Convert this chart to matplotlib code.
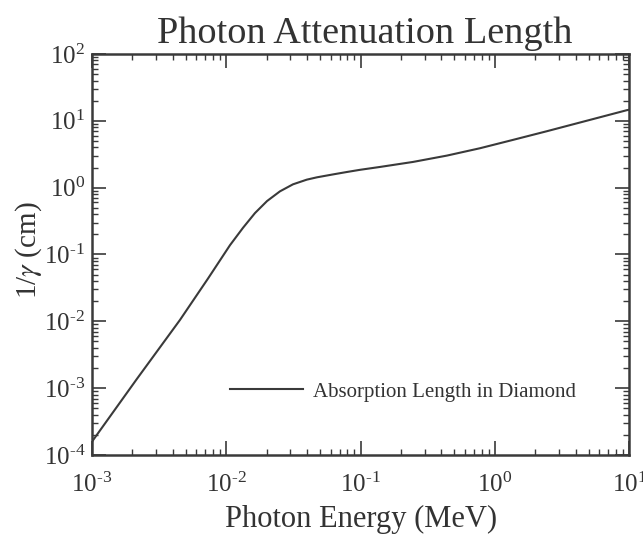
import matplotlib
matplotlib.use("Agg")
import matplotlib.pyplot as plt
import numpy as np
from matplotlib.ticker import LogLocator, NullFormatter, FuncFormatter

# Data (log10 values)
log_energy_mev = [-3.0, -2.665, -2.345, -2.136, -1.972, -1.875, -1.786, -1.696,
                  -1.600, -1.503, -1.40, -1.324, -1.20, -1.10, -1.004, -0.855,
                  -0.609, -0.356, -0.110, 0.136, 0.389, 0.635, 0.985, 1.0]
log_length_cm = [-3.80, -2.86, -1.98, -1.36, -0.86, -0.60, -0.38, -0.20,
                 -0.055, 0.05, 0.12, 0.155, 0.20, 0.235, 0.267, 0.31,
                 0.385, 0.48, 0.59, 0.715, 0.845, 0.975, 1.16, 1.165]

energy = [10 ** v for v in log_energy_mev]
length = [10 ** v for v in log_length_cm]

title = "Photon Attenuation Length"
xlabel = "Photon Energy (MeV)"
ylabel = r"1/$\gamma$ (cm)"
series_label = "Absorption Length in Diamond"

plt.rcParams['font.family'] = ['Liberation Serif', 'DejaVu Serif']
plt.rcParams['mathtext.fontset'] = 'stix'

W, H = 643, 539
fig = plt.figure(figsize=(W / 100, H / 100), dpi=100)
fig.patch.set_facecolor('white')
L, R, T, B = 92, 629, 54, 455
ax = fig.add_axes([L / W, 1 - B / H, (R - L) / W, (B - T) / H])

ink = '#3a3a3a'
ax.plot(energy, length, color=ink, lw=1.5, label=series_label)
ax.set_xscale('log')
ax.set_yscale('log')
ax.set_xlim(1e-3, 1e1)
ax.set_ylim(1e-4, 1e2)

for s in ax.spines.values():
    s.set_linewidth(1.8)
    s.set_color(ink)


def pow_fmt(v, pos):
    e = int(round(np.log10(v)))
    s = str(abs(e))
    if e < 0:
        s = '\u2010' + s
    return r'$\mathregular{10^{%s}}$' % s


ax.xaxis.set_major_locator(LogLocator(base=10, numticks=10))
ax.xaxis.set_minor_locator(LogLocator(base=10, subs=np.arange(2, 10), numticks=20))
ax.yaxis.set_major_locator(LogLocator(base=10, numticks=10))
ax.yaxis.set_minor_locator(LogLocator(base=10, subs=np.arange(2, 10), numticks=20))
ax.xaxis.set_major_formatter(FuncFormatter(pow_fmt))
ax.yaxis.set_major_formatter(FuncFormatter(pow_fmt))
ax.xaxis.set_minor_formatter(NullFormatter())
ax.yaxis.set_minor_formatter(NullFormatter())

ax.tick_params(which='both', direction='in', top=True, right=True, colors=ink)
ax.tick_params(which='major', length=10, width=1.2, labelsize=18, labelcolor='#333333')
ax.tick_params(which='minor', length=4.5, width=1.0)
ax.tick_params(axis='x', which='major', pad=13)
ax.tick_params(axis='y', which='major', pad=5)

fig.text(365 / W, 1 - 43 / H, title, fontsize=27.5, ha='center', va='baseline', color='#333333')
fig.text(361 / W, 1 - 527 / H, xlabel, fontsize=22, ha='center', va='baseline', color='#333333')
fig.text(29 / W, 1 - 250 / H, ylabel, fontsize=21, ha='center', va='center', rotation=90, color='#333333')

leg = ax.legend(loc='center left', bbox_to_anchor=((230 - L) / (R - L), (B - 392) / (B - T)),
                frameon=False, fontsize=15, borderpad=0, borderaxespad=0,
                handlelength=3.5, handletextpad=0.5)
for t in leg.get_texts():
    t.set_color('#333333')

fig.savefig('out.png', dpi=100, facecolor='white')
